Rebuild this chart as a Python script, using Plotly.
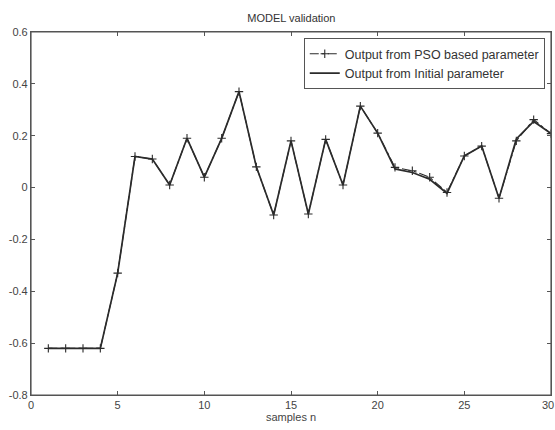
import plotly.graph_objects as go

# Sample index
samples = list(range(1, 31))

# Model output using the PSO-tuned parameters
pso_output = [-0.62, -0.62, -0.62, -0.62, -0.33, 0.12, 0.11, 0.01, 0.19, 0.04,
              0.19, 0.37, 0.08, -0.106, 0.18, -0.102, 0.186, 0.01, 0.314, 0.21,
              0.078, 0.065, 0.04, -0.019, 0.122, 0.16, -0.041, 0.18, 0.262, 0.208]

# Model output using the initial parameters
initial_output = [-0.62, -0.62, -0.62, -0.62, -0.33, 0.12, 0.11, 0.01, 0.19, 0.04,
                  0.19, 0.37, 0.08, -0.106, 0.18, -0.102, 0.186, 0.01, 0.314, 0.21,
                  0.072, 0.058, 0.032, -0.022, 0.122, 0.16, -0.041, 0.188, 0.255, 0.208]

x_ticks = [0, 5, 10, 15, 20, 25]
last_x_tick = 30
y_ticks = [-0.8, -0.6, -0.4, -0.2, 0, 0.2, 0.4, 0.6]
y_tick_text = ["-0.8", "-0.6", "-0.4", "-0.2", "0", "0.2", "0.4", "0.6"]

line_color = "#2b2b2b"
axis_color = "#555555"
text_color = "#444444"
font_family = "Liberation Sans, Arial, sans-serif"

fig = go.Figure()

fig.add_trace(go.Scatter(
    x=samples, y=pso_output,
    mode="lines+markers",
    name="Output from PSO based parameter",
    line=dict(color=line_color, width=1.1, dash="dashdot"),
    marker=dict(symbol="cross-thin", size=6,
                line=dict(color=line_color, width=1.1)),
))

fig.add_trace(go.Scatter(
    x=samples, y=initial_output,
    mode="lines",
    name="Output from Initial parameter",
    line=dict(color=line_color, width=1.7),
))

axis_common = dict(
    showline=True, linecolor=axis_color, linewidth=1.2,
    mirror="allticks", ticks="inside", ticklen=4, tickcolor=axis_color,
    showgrid=False, zeroline=False,
    tickfont=dict(family=font_family, size=11, color=text_color),
)

fig.update_xaxes(
    range=[0, 30], tickmode="array", tickvals=x_ticks + [last_x_tick],
    ticktext=[str(v) for v in x_ticks] + [""],
    title=dict(text="samples n", standoff=2,
               font=dict(family=font_family, size=11, color=text_color)),
    **axis_common,
)
fig.update_yaxes(
    range=[-0.8, 0.6], tickmode="array", tickvals=y_ticks, ticktext=y_tick_text,
    **axis_common,
)

# The final x tick label sits right at the figure edge
fig.add_annotation(
    x=1, y=0, xref="paper", yref="paper",
    text=str(last_x_tick), showarrow=False,
    xanchor="center", yanchor="top", yshift=-2, xshift=-3,
    font=dict(family=font_family, size=11, color=text_color),
)

# Frame around the axes box
fig.add_shape(
    type="rect", xref="paper", yref="paper", x0=0, y0=0, x1=1, y1=1,
    line=dict(color=axis_color, width=1.2), fillcolor="rgba(0,0,0,0)",
    layer="above",
)

fig.update_layout(
    width=555, height=430,
    margin=dict(l=31, r=4, t=32, b=35),
    paper_bgcolor="white", plot_bgcolor="white",
    title=dict(text="MODEL validation", x=0.525, xanchor="center",
               y=0.957, yanchor="middle",
               font=dict(family=font_family, size=11, color="#333333")),
    showlegend=True,
    legend=dict(
        x=0.988, y=0.983, xanchor="right", yanchor="top",
        bgcolor="white", bordercolor=axis_color, borderwidth=1,
        font=dict(family=font_family, size=12.5, color="#333333"),
        tracegroupgap=0,
    ),
)

fig.write_html("out.html")
